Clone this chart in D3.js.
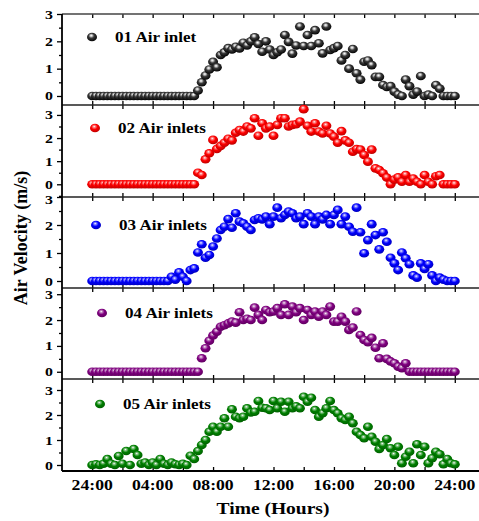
<!DOCTYPE html>
<html>
<head>
<meta charset="utf-8">
<script src="https://cdn.jsdelivr.net/npm/d3@7"></script>
<style>
  html, body { margin: 0; padding: 0; background: #fff; }
  svg { display: block; }
</style>
</head>
<body>
<svg id="chart" width="479" height="521"></svg>
<script>
// Sampling step of the logger, in hours (one reading every 15 minutes, 00:00 – 24:00)
const STEP_H = 0.25;
const hours = d3.range(0, 24 + STEP_H / 2, STEP_H);

const seriesNames = ["01 Air inlet", "02 Air inlets", "03 Air inlets", "04 Air inlets", "05 Air inlets"];
const seriesColors = ["#000000", "#ff0000", "#0000ff", "#800080", "#008000"];

const xTickHours = [0, 4, 8, 12, 16, 20, 24];
const xTickLabels = ["24:00", "04:00", "08:00", "12:00", "16:00", "20:00", "24:00"];
const yTickValues = [0, 1, 2, 3];

// Air velocity (m/s), one value per 15-minute reading
const inlet01 = [
  0,0,0,0,0,0,0,0,0,0,0,0,0,0,0,0,0,0,0,0,0,0,0,0,0,0,0,0,
  0.2,0.5,0.75,0.97,1.25,1.05,1.5,1.6,1.75,1.7,1.8,1.74,1.95,1.85,2.0,2.15,1.9,1.62,2.0,1.7,
  1.5,1.6,1.7,2.23,1.98,1.55,1.85,2.54,1.83,2.23,1.83,2.41,1.93,1.56,2.54,1.68,
  1.75,1.83,1.3,1.5,1.0,1.72,0.83,0.6,1.25,1.3,1.13,0.7,0.7,0.4,0.33,0.36,
  0.16,0.05,0,0.6,0.36,0.05,0.16,0.73,0,0.05,0,0.4,0.27,0,0,0,0
];
const inlet02 = [
  0,0,0,0,0,0,0,0,0,0,0,0,0,0,0,0,0,0,0,0,0,0,0,0,0,0,0,0,
  0.5,0.4,1.08,1.34,1.92,1.53,1.66,1.8,1.97,1.9,2.23,2.35,2.28,2.5,2.42,2.86,2.1,2.64,2.42,2.5,
  2.1,2.57,2.86,2.86,2.5,2.57,2.6,2.71,3.25,2.53,2.28,2.64,2.28,2.2,2.53,2.2,
  2.06,1.8,2.3,1.9,1.8,1.41,1.52,1.5,1.27,0.98,1.5,0.69,0.62,0.48,0.29,0,
  0.2,0.3,0.11,0.4,0.11,0.25,0.11,0,0.4,0.11,0,0.35,0.4,0,0,0,0
];
const inlet03 = [
  0,0,0,0,0,0,0,0,0,0,0,0,0,0,0,0,0,0,0,0,0,
  0.15,0.05,0.31,0.15,0,0.39,0.45,
  1.02,1.31,0.83,0.93,1.23,1.52,1.82,1.94,2.21,1.9,2.42,2.12,2.06,1.94,1.82,2.18,2.24,2.2,2.3,2.03,
  2.3,2.62,2.24,2.36,2.48,2.42,2.24,2.3,2.03,2.42,2.3,2.03,2.3,2.2,2.36,2.03,
  2.36,2.54,2.03,2.3,1.94,1.76,2.62,1.74,0.99,1.46,2.03,1.64,1.13,1.74,1.4,0.83,
  0.63,0.39,1.02,0.81,0.6,0.2,0.12,0.63,0.43,0.6,0.2,0,0.12,0.05,0,0,0
];
const inlet04 = [
  0,0,0,0,0,0,0,0,0,0,0,0,0,0,0,0,0,0,0,0,0,0,0,0,0,0,0,0,0,
  0.52,0.91,1.2,1.4,1.55,1.74,1.8,1.87,1.94,1.9,2.3,2.0,2.05,2.0,2.48,2.2,2.0,2.39,2.3,
  2.33,2.46,2.2,2.61,2.2,2.52,2.3,2.46,2.0,2.39,2.2,2.33,2.13,2.33,2.2,2.52,
  1.94,1.94,2.13,1.94,1.62,1.71,2.33,1.42,1.23,1.14,1.31,0.93,0.52,1.1,0.5,0.4,
  0.33,0.2,0.14,0.33,0,0,0,0,0,0,0,0,0,0,0,0,0
];
const inlet05 = [
  0,0.03,0,0.05,0.24,0.05,0,0.36,0.05,0.56,0,0.64,0.4,0.05,0.1,0,
  0.1,0,0.24,0.05,0,0.1,0.03,0,0.05,0,0.37,0.24,
  0.56,0.8,1.0,1.33,1.53,1.33,1.53,1.87,1.53,2.23,1.93,1.87,1.93,2.27,2.1,2.13,2.56,2.29,2.27,2.2,
  2.56,2.27,2.53,2.13,2.53,2.27,2.35,2.27,2.73,2.53,2.69,2.2,1.93,2.07,2.27,2.56,
  2.2,2.07,1.87,1.8,1.93,1.67,1.33,1.2,1.07,1.53,1.13,0.93,0.64,0.8,1.04,0.67,
  0.4,0.73,0.07,0.33,0.53,0.07,0.83,0.4,0.73,0.07,0.27,0.53,0.43,0.03,0.24,0.07,0.03
];
const seriesValues = [inlet01, inlet02, inlet03, inlet04, inlet05];

// Panel geometry (pixel edges of the five stacked plots and their value ranges)
const panelEdges = [14, 105, 197, 288, 379, 471];
const panelDomains = [[-0.33, 3.0], [-0.55, 3.43], [-0.25, 3.0], [-0.28, 3.24], [-0.24, 3.44]];
const legendPos = [[92, 37], [95, 128], [96, 225], [102, 313], [100, 404]];

const FONT = "'Liberation Serif', 'Times New Roman', Times, serif";
const WIDE = 1.22; // horizontal stretch applied to all lettering

const svg = d3.select("#chart");
const defs = svg.append("defs");

// Draws a bold serif label at (px, py), stretched horizontally
function label(parent, px, py, str, size, anchor) {
  return parent.append("text")
    .attr("transform", `translate(${px},${py}) scale(${WIDE},1)`)
    .attr("text-anchor", anchor || "start")
    .attr("font-family", FONT).attr("font-weight", "bold")
    .attr("font-size", size).attr("fill", "#000")
    .text(str);
}

// Shaded-sphere gradients for the markers
seriesColors.forEach((c, i) => {
  const light = d3.interpolateRgb(c, "#ffffff");
  const g = defs.append("radialGradient")
    .attr("id", "ball" + i)
    .attr("cx", "45%").attr("cy", "40%").attr("r", "62%")
    .attr("fx", "42%").attr("fy", "32%");
  const stops = i === 0
    ? [[0, "#ffffff"], [0.18, "#c8c8c8"], [0.45, "#3a3a3a"], [1, "#000000"]]
    : [[0, "#ffffff"], [0.18, light(0.55)], [0.5, c], [1, d3.color(c).darker(0.9).formatHex()]];
  stops.forEach(([o, col]) => g.append("stop").attr("offset", o).attr("stop-color", col));
});

const x = d3.scaleLinear().domain([-2, 26]).range([62, 485]);
const RX = 5, RY = 4.3;

function styleTicks(a) {
  a.select(".domain").remove();
  a.selectAll("line").attr("stroke", "#000").attr("stroke-width", 1.3);
}

seriesValues.forEach((vals, p) => {
  const top = panelEdges[p], bottom = panelEdges[p + 1];
  const y = d3.scaleLinear().domain(panelDomains[p]).range([bottom, top]);
  const g = svg.append("g");

  // x ticks on top and bottom edges, pointing inward
  const xt = d3.range(0, 25, 2);
  g.append("g").attr("transform", `translate(0,${top})`)
    .call(d3.axisBottom(x).tickValues(xt).tickSize(4).tickFormat("")).call(styleTicks);
  g.append("g").attr("transform", `translate(0,${bottom})`)
    .call(d3.axisTop(x).tickValues(xt).tickSize(4).tickFormat("")).call(styleTicks);

  // y axis: major ticks with labels, minor half-unit ticks
  const lo = Math.ceil(panelDomains[p][0] * 2) / 2;
  const minors = d3.range(lo, panelDomains[p][1] + 0.001, 0.5).filter(v => !Number.isInteger(v));
  g.append("g").attr("transform", "translate(62,0)")
    .call(d3.axisLeft(y).tickValues(minors).tickSize(3).tickFormat("")).call(styleTicks);
  g.append("g").attr("transform", "translate(62,0)")
    .call(d3.axisLeft(y).tickValues(yTickValues).tickSize(5).tickFormat("")).call(styleTicks);
  yTickValues.forEach(v => {
    // a label sitting right on the panel's top edge is nudged down to clear the panel above
    const nudge = (p > 0 && y(v) - top < 3) ? 2.5 : 0;
    label(g, 53, y(v) + 4.5 + nudge, d3.format("d")(v), 13, "end");
  });

  // frame edge between panels
  g.append("line").attr("x1", 62).attr("x2", 479).attr("y1", top).attr("y2", top)
    .attr("stroke", p === 0 ? "#444" : "#222").attr("stroke-width", 1.6);

  // data points
  g.append("g").selectAll("ellipse").data(vals).join("ellipse")
    .attr("cx", (d, i) => x(hours[i]))
    .attr("cy", d => y(d))
    .attr("rx", RX).attr("ry", RY)
    .attr("fill", `url(#ball${p})`);

  // legend
  const [lx, ly] = legendPos[p];
  g.append("ellipse").attr("cx", lx).attr("cy", ly).attr("rx", RX).attr("ry", RY)
    .attr("fill", `url(#ball${p})`);
  label(g, lx + 23, ly + 5, seriesNames[p], 14);

  if (p === 4) {
    g.append("line").attr("x1", 62).attr("x2", 479).attr("y1", bottom).attr("y2", bottom)
      .attr("stroke", "#000").attr("stroke-width", 1.8);
    xTickHours.forEach((h, i) => label(g, x(h), 490, xTickLabels[i], 14.5, "middle"));
  }
});

// left axis spine
svg.append("line").attr("x1", 62).attr("x2", 62).attr("y1", 14).attr("y2", 471)
  .attr("stroke", "#000").attr("stroke-width", 1.8);

// axis titles
label(svg, 273, 514, "Time (Hours)", 16, "middle");
svg.append("text").attr("transform", "translate(27,238) rotate(-90)")
  .attr("text-anchor", "middle")
  .attr("font-family", FONT).attr("font-weight", "bold").attr("font-size", 18)
  .text("Air Velocity (m/s)");
</script>
</body>
</html>
